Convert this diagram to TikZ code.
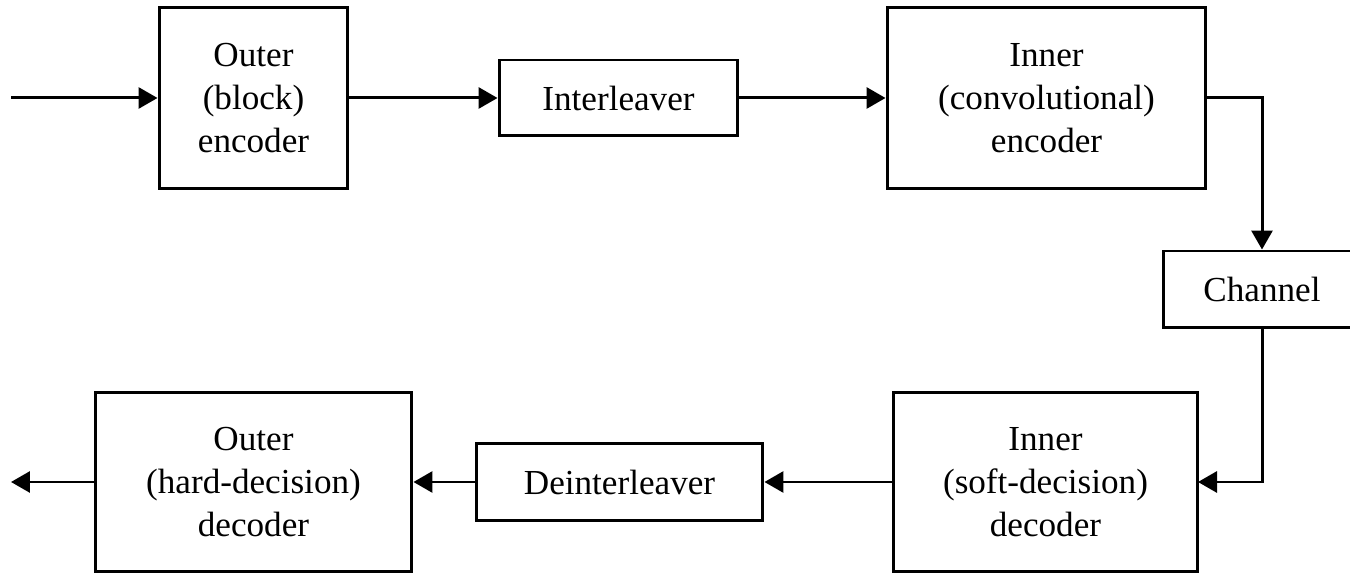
\documentclass[tikz,border=0pt]{standalone}
\usepackage{fontspec}
\setmainfont{Liberation Serif}
\usepackage{tikz}
\usetikzlibrary{arrows.meta, calc}

\tikzset{
  blockbox/.style={draw, line width=1.7pt, align=center, inner sep=0pt,
    font=\fontsize{20}{24.5}\selectfont},
  flow/.style={line width=1.7pt, -{Triangle[length=0.38cm, width=0.42cm]}}
}

\begin{document}
\begin{tikzpicture}[x=0.02cm, y=-0.02cm]

 %%Paramaters
%% row positions, can be modified
\def\topRow{98}
\def\botRow{482}
\def\downPos{1262}

\useasboundingbox (0,0) rectangle (1350,573);

 %% ***Encoder side***
\coordinate (in) at (11, \topRow);
\node[blockbox, minimum width=3.78cm, minimum height=3.62cm] at (253.5, \topRow) (outerenc) {Outer\\(block)\\encoder};
\node[blockbox, minimum width=4.78cm, minimum height=1.52cm] at (618.5, \topRow) (inter) {Interleaver};
\node[blockbox, minimum width=6.38cm, minimum height=3.62cm] at (1046.5, \topRow) (innerenc) {Inner\\(convolutional)\\encoder};

\draw[flow] (in) -- (outerenc.west);
\draw[flow] (outerenc.east) -- (inter.west);
\draw[flow] (inter.east) -- (innerenc.west);

 %% ***Channel***
\node[blockbox, minimum width=3.96cm, minimum height=1.54cm] at (\downPos, 289.5) (channel) {Channel};
% encoder -> channel
\draw[flow] (innerenc.east) -| (channel.north);
% channel -> decoder
\draw[flow] (channel.south) |- ($(1198, \botRow)$);

 %% ***Decoder side***
\node[blockbox, minimum width=6.10cm, minimum height=3.58cm] at (1045.5, \botRow) (innerdec) {Inner\\(soft-decision)\\decoder};
\node[blockbox, minimum width=5.74cm, minimum height=1.54cm] at (619.5, \botRow) (deinter) {Deinterleaver};
\node[blockbox, minimum width=6.34cm, minimum height=3.58cm] at (253.5, \botRow) (outerdec) {Outer\\(hard-decision)\\decoder};
\coordinate (out) at (11, \botRow);

\draw[flow] (innerdec.west) -- (deinter.east);
\draw[flow] (deinter.west) -- (outerdec.east);
\draw[flow] (outerdec.west) -- (out);

 \end{tikzpicture}
\end{document}
